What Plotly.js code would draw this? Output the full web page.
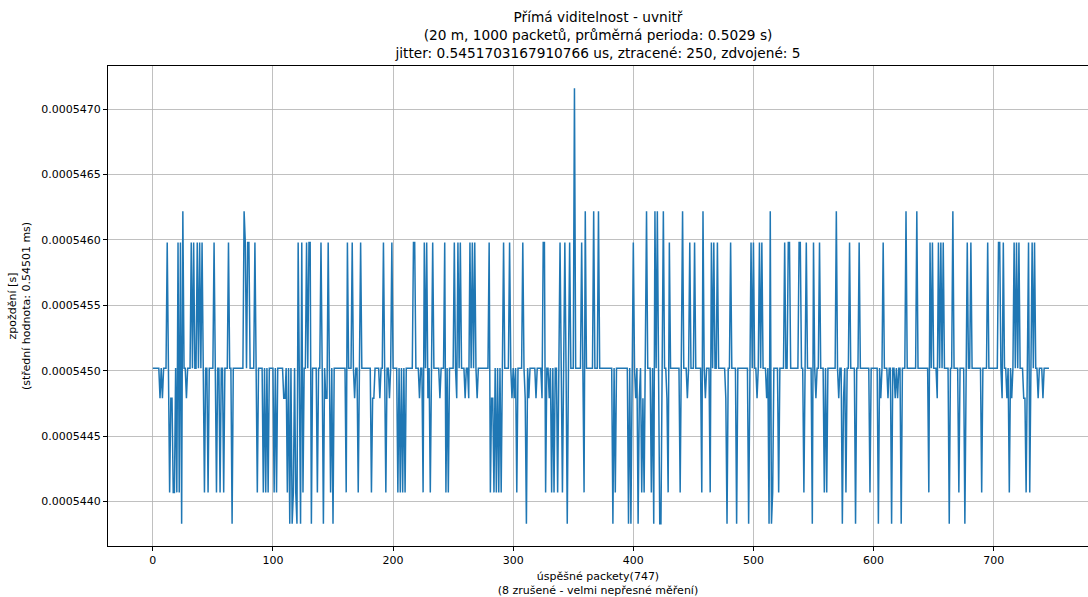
<!DOCTYPE html>
<html><head><meta charset="utf-8">
<script src="https://cdn.plot.ly/plotly-3.0.1.min.js"></script>
<style>body{margin:0;background:#fff}</style>
</head><body><div id="chart" style="width:1088px;height:597px"></div>
<script>
// number of successful packets
const packetCount = 747;
// delay levels seen in the picture [s]
const levels = [0.00054383, 0.00054407, 0.00054479, 0.00054502, 0.00054598, 0.00054622, 0.00054716];
const baselineLevel = 3;
// packets that deviate from the baseline level (index, level number)
const devIndex = [6,8,12,14,15,16,17,18,20,21,22,23,24,25,28,32,34,37,39,41,43,46,51,53,56,59,
  63,66,76,77,79,80,85,87,92,94,96,101,103,109,110,112,114,116,117,119,120,
  121,123,124,125,128,130,131,132,137,140,142,144,145,146,148,150,161,162,166,168,171,173,182,
  183,184,189,192,194,197,199,204,206,208,210,217,218,222,225,226,228,229,231,233,239,243,244,246,
  251,253,254,256,260,263,264,266,268,270,280,281,282,283,284,286,288,290,292,297,299,301,303,308,
  310,311,313,319,324,325,326,327,330,332,334,337,339,341,343,345,347,351,357,359,360,367,371,
  383,385,396,398,400,402,404,405,407,408,409,411,415,417,418,420,422,423,425,428,429,430,
  439,441,445,447,451,457,458,460,464,465,467,470,477,478,481,486,496,
  498,500,503,505,507,511,513,514,515,516,521,526,529,530,538,539,542,544,549,550,552,555,559,
  561,569,571,574,575,577,580,585,588,597,604,606,608,612,615,618,620,
  623,627,636,646,647,649,653,654,656,658,663,666,671,676,678,681,
  690,695,704,705,707,708,711,713,715,717,719,721,725,726,727,729,730,732,734,737,741];
const devLevel = [2,2,4,1,2,2,1,1,1,4,1,4,0,5,2,4,4,4,4,4,1,1,4,1,1,1,
  4,0,5,4,4,4,4,1,1,1,1,1,1,2,2,1,0,0,1,1,0,
  4,0,4,1,4,4,4,0,1,4,0,2,2,4,1,0,1,4,4,2,1,4,1,
  2,2,2,4,1,2,4,1,1,1,1,4,4,2,1,4,4,2,1,4,2,4,1,1,
  4,2,4,4,2,2,4,4,4,2,4,1,2,2,1,1,1,1,4,4,2,2,1,4,
  2,0,2,2,2,4,4,1,2,1,1,1,4,1,4,0,4,6,4,1,5,5,5,
  0,1,0,0,4,2,0,2,1,2,1,5,1,0,5,5,0,0,5,2,1,4,
  1,5,2,4,4,1,5,2,1,4,4,4,2,0,4,0,0,
  4,4,2,4,4,2,0,5,0,1,1,4,4,4,4,4,1,4,0,4,2,4,1,
  1,5,2,0,2,1,4,0,4,1,0,2,4,2,0,2,2,
  0,5,5,1,4,4,2,4,4,4,0,5,1,0,4,4,
  1,4,4,4,2,4,2,1,2,4,4,4,2,2,1,4,1,4,4,2,2];

const xVals = [];
const yVals = [];
for (let i = 0; i < packetCount; i++) { xVals.push(i); yVals.push(levels[baselineLevel]); }
devIndex.forEach((idx, k) => { yVals[idx] = levels[devLevel[k]]; });

const titleLines = ['Přímá viditelnost - uvnitř',
  '(20 m, 1000 packetů, průměrná perioda: 0.5029 s)',
  'jitter: 0.5451703167910766 us, ztracené: 250, zdvojené: 5'];
const xTitleLines = ['úspěšné packety(747)', '(8 zrušené - velmi nepřesné měření)'];
const yTitleLines = ['zpoždění [s]', '(střední hodnota: 0.54501 ms)'];
const xTicks = [0, 100, 200, 300, 400, 500, 600, 700];

const font = {family: 'DejaVu Sans', size: 11, color: '#000'};
const axisCommon = {
  showgrid: true, gridcolor: '#b0b0b0', gridwidth: 0.8,
  showline: true, linecolor: '#000', linewidth: 1, mirror: true,
  ticks: 'outside', ticklen: 4, tickwidth: 1, tickcolor: '#000',
  zeroline: false, automargin: false, tickfont: font
};

Plotly.newPlot('chart', [{
  x: xVals, y: yVals, type: 'scatter', mode: 'lines',
  line: {color: '#1f77b4', width: 1.5}
}], {
  width: 1088, height: 597,
  margin: {l: 108, r: 0, t: 66, b: 51},
  paper_bgcolor: '#fff', plot_bgcolor: '#fff',
  font: font, showlegend: false,
  title: {text: titleLines.join('<br>'), font: {family: 'DejaVu Sans', size: 13.7, color: '#000'},
    x: 0.5, xanchor: 'center', xref: 'paper', yref: 'container', y: 1 - 22/597, yanchor: 'top'},
  xaxis: Object.assign({}, axisCommon, {
    range: [-37.3, 778.5], tickvals: xTicks, ticktext: xTicks.map(String),
    title: {text: xTitleLines.join('<br>'), font: font, standoff: 8}
  }),
  yaxis: Object.assign({}, axisCommon, {
    range: [0.00054366, 0.00054733], tick0: 0.000544, dtick: 0.0000005, tickformat: '.7f',
    title: {text: yTitleLines.join('<br>'), font: font, standoff: 8}
  })
}, {displayModeBar: false, staticPlot: true});
</script>
</body></html>
